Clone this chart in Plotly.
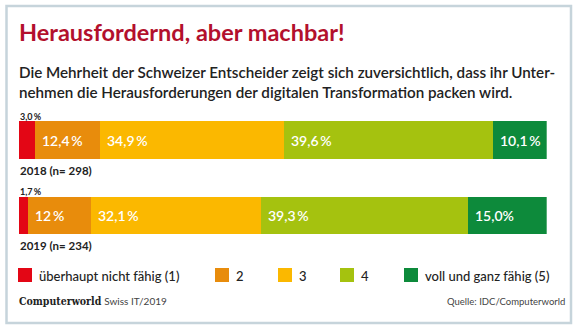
import plotly.graph_objects as go

W, H = 580, 330

# --- data -------------------------------------------------------------
years = ["2018 (n= 298)", "2019 (n= 234)"]
levels = ["überhaupt nicht fähig (1)", "2", "3", "4", "voll und ganz fähig (5)"]
colors = ["#e30615", "#e88c0c", "#fbb800", "#a5c20f", "#0d8a3b"]
share_2018 = [3.0, 12.4, 34.9, 39.6, 10.1]
share_2019 = [1.7, 12.0, 32.1, 39.3, 15.0]
labels_2018 = ["3,0\u2009%", "12,4\u2009%", "34,9\u2009%", "39,6\u2009%", "10,1\u2009%"]
labels_2019 = ["1,7\u2009%", "12\u2009%", "32,1\u2009%", "39,3\u2009%", "15,0%"]

title = "Herausfordernd, aber machbar!"
subtitle = ("Die Mehrheit der Schweizer Entscheider zeigt sich zuversichtlich, dass ihr Unter-<br>"
            "nehmen die Herausforderungen der digitalen Transformation packen wird.")

FONT = "Lato"
DARK = "#222222"


def px(x):
    return x / W


def py(y):
    return 1 - y / H


fig = go.Figure()
values = [share_2018, share_2019]
for i, lev in enumerate(levels):
    fig.add_trace(go.Bar(
        y=years,
        x=[values[0][i], values[1][i]],
        name=lev,
        orientation="h",
        marker=dict(color=colors[i], line=dict(width=0)),
        width=0.503,
        showlegend=False,
        hoverinfo="skip",
    ))

annotations = []
shapes = []

# value labels: first segment above the bar, the rest inside, left aligned
for yr, vals, labs in zip(years, values, [labels_2018, labels_2019]):
    start = 0.0
    for i, (v, lab) in enumerate(zip(vals, labs)):
        if i == 0:
            annotations.append(dict(
                x=0, y=yr, xref="x", yref="y", text=lab, showarrow=False,
                xanchor="left", yanchor="middle", yshift=24, xshift=-1,
                font=dict(family=FONT, size=9, color=DARK, weight="bold"),
            ))
        else:
            annotations.append(dict(
                x=start, y=yr, xref="x", yref="y", text=lab, showarrow=False,
                xanchor="left", yanchor="middle", xshift=5,
                font=dict(family=FONT, size=14, color="white", weight=600),
            ))
        start += v
    # row label below the bar
    annotations.append(dict(
        x=0, y=yr, xref="x", yref="y", text=yr, showarrow=False,
        xanchor="left", yanchor="middle", yshift=-30, xshift=-1,
        font=dict(family=FONT, size=11.5, color=DARK, weight="bold"),
    ))

# title and subtitle
annotations.append(dict(
    x=px(17), y=py(32), xref="paper", yref="paper", text=title, showarrow=False,
    xanchor="left", yanchor="middle",
    font=dict(family=FONT, size=23.5, color="#b3102d", weight="bold"),
))
annotations.append(dict(
    x=px(17), y=py(82), xref="paper", yref="paper", text=subtitle, showarrow=False,
    xanchor="left", yanchor="middle", align="left",
    font=dict(family=FONT, size=15.2, color=DARK, weight=600),
))

# legend
legend_x = [18, 215, 278, 340, 404]
for lx, lev, col in zip(legend_x, levels, colors):
    shapes.append(dict(
        type="rect", xref="paper", yref="paper",
        x0=px(lx), x1=px(lx + 14), y0=py(282), y1=py(268),
        fillcolor=col, line=dict(width=0),
    ))
    annotations.append(dict(
        x=px(lx + 19), y=py(275.5), xref="paper", yref="paper", text=lev,
        showarrow=False, xanchor="left", yanchor="middle",
        font=dict(family=FONT, size=13, color=DARK, weight=500),
    ))

# footer
annotations.append(dict(
    x=px(17), y=py(301), xref="paper", yref="paper",
    text="<b>Computerworld</b> <span style='font-family:Lato;font-size:10px;color:#444'>Swiss IT/2019</span>",
    showarrow=False, xanchor="left", yanchor="middle",
    font=dict(family="DejaVu Serif Condensed", size=10.5, color=DARK),
))
annotations.append(dict(
    x=px(567), y=py(301), xref="paper", yref="paper", text="Quelle: IDC/Computerworld",
    showarrow=False, xanchor="right", yanchor="middle",
    font=dict(family=FONT, size=9.5, color="#444444"),
))

# outer frame
shapes.append(dict(
    type="rect", xref="paper", yref="paper",
    x0=px(6.5), x1=px(571), y0=py(323), y1=py(6),
    line=dict(color="#c6d4db", width=2.5), fillcolor="rgba(0,0,0,0)", layer="below",
))

unit = 215.5 - 140.0
fig.update_layout(
    width=W, height=H,
    margin=dict(l=0, r=0, t=0, b=0),
    paper_bgcolor="white", plot_bgcolor="white",
    barmode="stack",
    bargap=0,
    xaxis=dict(range=[0, 100], domain=[px(19), px(546.7)], visible=False, fixedrange=True),
    yaxis=dict(
        type="category", categoryorder="array", categoryarray=years,
        range=[1 + (H - 215.5) / unit, -140.0 / unit],
        domain=[0, 1], visible=False, fixedrange=True,
    ),
    annotations=annotations,
    shapes=shapes,
    font=dict(family=FONT),
)

fig.write_html("out.html")
